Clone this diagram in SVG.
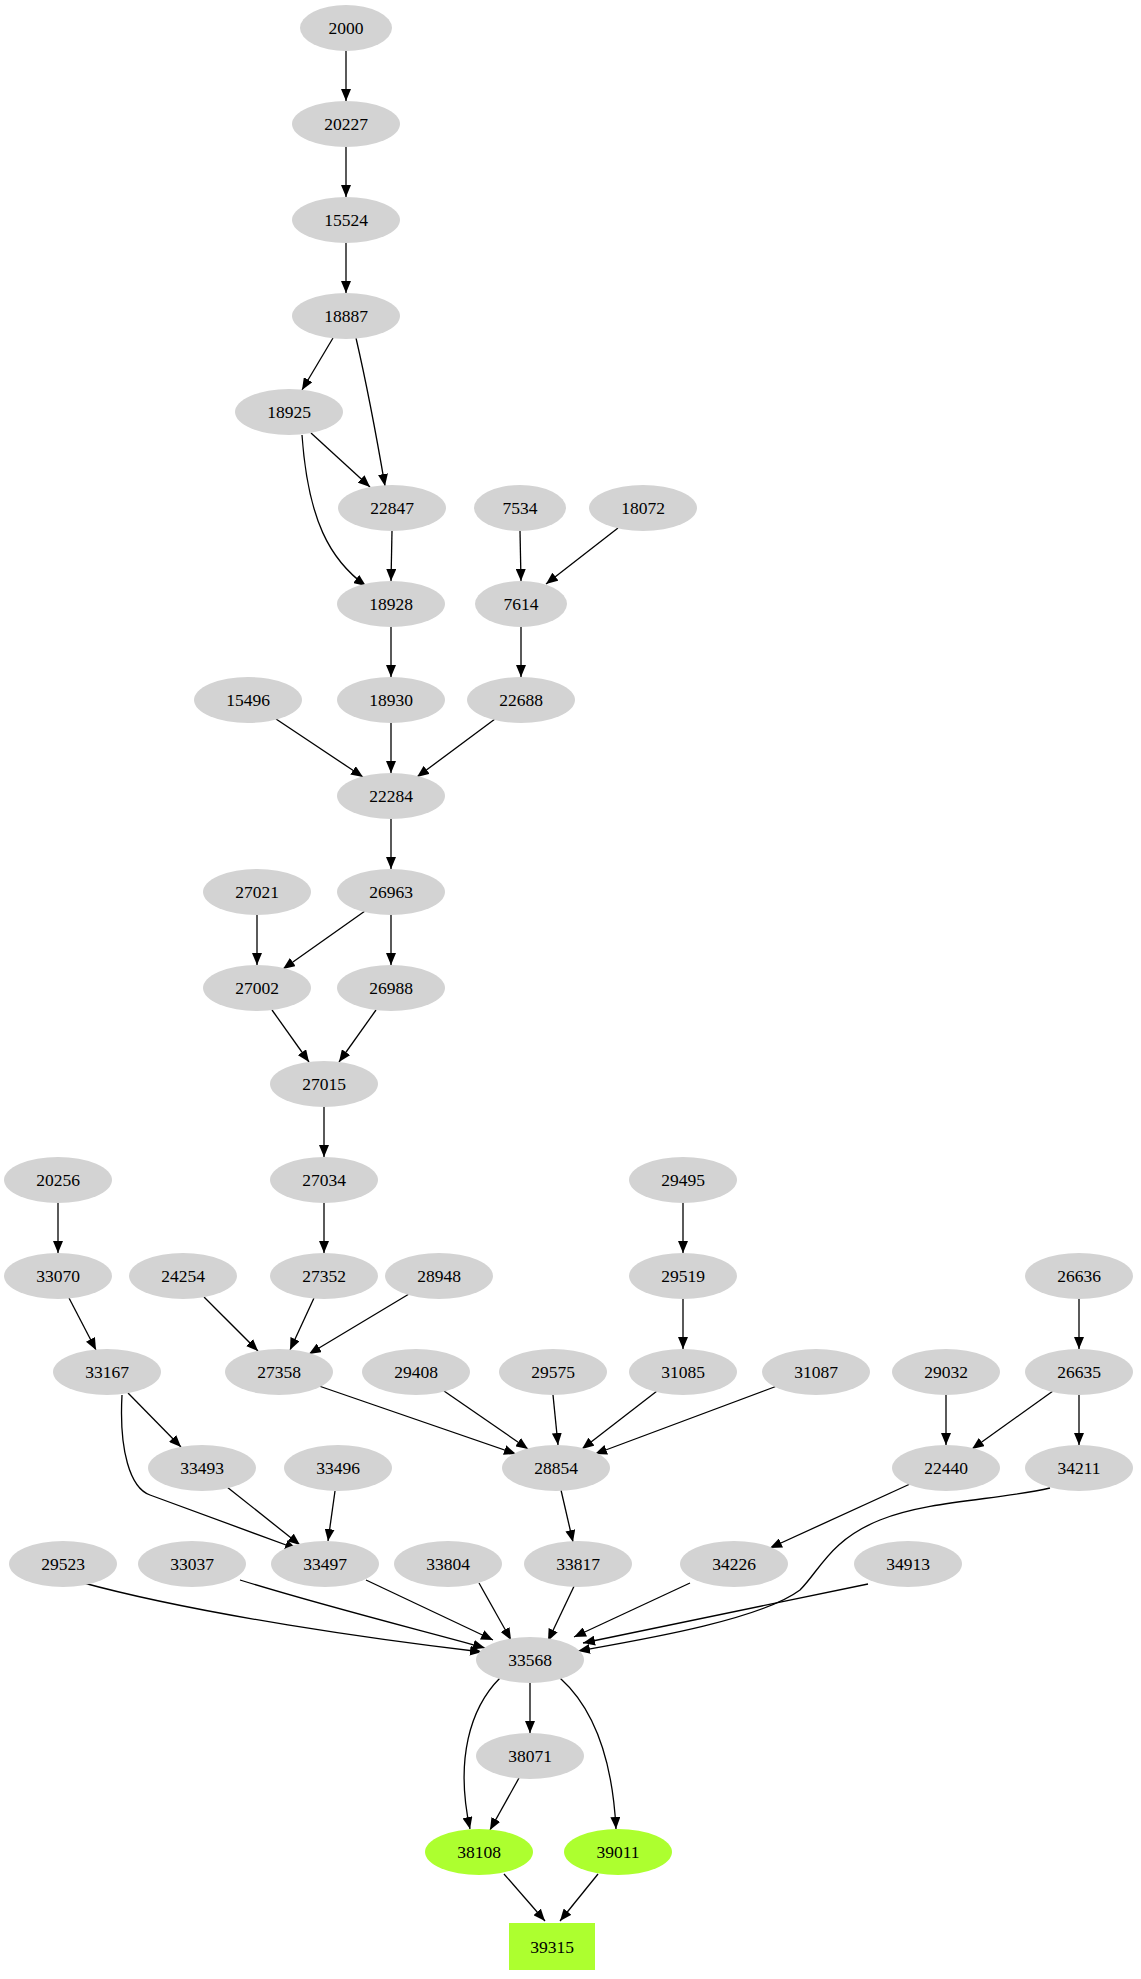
<svg xmlns="http://www.w3.org/2000/svg" width="1141" height="1979" viewBox="0 0 1141 1979">
<style>
.n ellipse{fill:#d3d3d3;stroke:none}
.g ellipse,.g rect{fill:#adff2f;stroke:none}
text{font-family:"Liberation Serif","Times New Roman",serif;font-size:17.5px;text-anchor:middle;dominant-baseline:central;fill:#000}
#edges path{fill:none;stroke:#000;stroke-width:1.3;marker-end:url(#a)}
</style>
<defs><marker id="a" markerUnits="userSpaceOnUse" markerWidth="13" markerHeight="10" refX="12" refY="5" orient="auto"><path d="M0,0 L12,5 L0,10 Z" fill="#000"/></marker></defs>
<rect width="1141" height="1979" fill="#fff"/>
<g id="edges">
<path d="M346,51 L346,101"/><path d="M346,147 L346,197"/><path d="M346,243 L346,293"/>
<path d="M333,338 L302,390"/>
<path d="M356,338 C368,390 378,445 385,486"/>
<path d="M311,433 L370,487"/>
<path d="M302,435 C308,520 330,560 366,586"/>
<path d="M392,531 L391,581"/><path d="M520,531 L521,581"/>
<path d="M618,528 L546,584"/>
<path d="M391,627 L391,677"/><path d="M521,627 L521,677"/>
<path d="M276,719 L363,777"/><path d="M391,723 L391,773"/><path d="M495,719 L417,777"/>
<path d="M391,819 L391,869"/><path d="M257,915 L257,965"/><path d="M365,911 L283,969"/><path d="M391,915 L391,965"/>
<path d="M272,1010 L309,1062"/><path d="M376,1010 L339,1062"/><path d="M324,1107 L324,1157"/>
<path d="M58,1203 L58,1253"/><path d="M683,1203 L683,1253"/><path d="M324,1203 L324,1253"/><path d="M1079,1299 L1079,1349"/>
<path d="M69,1298 L96,1350"/><path d="M204,1297 L258,1351"/><path d="M314,1298 L290,1350"/><path d="M409,1294 L309,1354"/>
<path d="M683,1299 L683,1349"/>
<path d="M128,1393 L181,1447"/>
<path d="M122,1395 C119,1450 130,1488 150,1495 L297,1549"/>
<path d="M1053,1391 L972,1449"/><path d="M946,1395 L946,1445"/><path d="M1079,1395 L1079,1445"/>
<path d="M319,1386 L516,1454"/><path d="M444,1391 L528,1449"/><path d="M553,1395 L558,1445"/><path d="M657,1391 L582,1449"/><path d="M777,1386 L595,1454"/>
<path d="M227,1487 L300,1545"/><path d="M335,1491 L328,1541"/><path d="M561,1490 L573,1542"/><path d="M910,1484 L770,1548"/>
<path d="M1050,1488 C1000,1500 930,1500 880,1520 C830,1540 820,1570 800,1590 C760,1620 640,1640 578,1651"/>
<path d="M80,1582 C200,1615 380,1640 482,1652"/>
<path d="M240,1580 C320,1605 420,1630 485,1648"/>
<path d="M366,1580 L493,1640"/><path d="M479,1583 L511,1640"/><path d="M577,1580 L548,1641"/><path d="M690,1583 L574,1637"/><path d="M868,1584 L583,1643"/>
<path d="M530,1683 L530,1733"/>
<path d="M500,1678 C470,1708 455,1760 470,1829"/>
<path d="M519,1778 L490,1830"/>
<path d="M560,1678 C590,1705 612,1750 616,1829"/>
<path d="M504,1874 L545,1921"/><path d="M598,1874 L560,1921"/>
</g>
<g id="n2000" class="n"><ellipse cx="346" cy="28" rx="46" ry="23"/><text x="346" y="28">2000</text></g>
<g id="n20227" class="n"><ellipse cx="346" cy="124" rx="54" ry="23"/><text x="346" y="124">20227</text></g>
<g id="n15524" class="n"><ellipse cx="346" cy="220" rx="54" ry="23"/><text x="346" y="220">15524</text></g>
<g id="n18887" class="n"><ellipse cx="346" cy="316" rx="54" ry="23"/><text x="346" y="316">18887</text></g>
<g id="n18925" class="n"><ellipse cx="289" cy="412" rx="54" ry="23"/><text x="289" y="412">18925</text></g>
<g id="n22847" class="n"><ellipse cx="392" cy="508" rx="54" ry="23"/><text x="392" y="508">22847</text></g>
<g id="n7534" class="n"><ellipse cx="520" cy="508" rx="46" ry="23"/><text x="520" y="508">7534</text></g>
<g id="n18072" class="n"><ellipse cx="643" cy="508" rx="54" ry="23"/><text x="643" y="508">18072</text></g>
<g id="n18928" class="n"><ellipse cx="391" cy="604" rx="54" ry="23"/><text x="391" y="604">18928</text></g>
<g id="n7614" class="n"><ellipse cx="521" cy="604" rx="46" ry="23"/><text x="521" y="604">7614</text></g>
<g id="n15496" class="n"><ellipse cx="248" cy="700" rx="54" ry="23"/><text x="248" y="700">15496</text></g>
<g id="n18930" class="n"><ellipse cx="391" cy="700" rx="54" ry="23"/><text x="391" y="700">18930</text></g>
<g id="n22688" class="n"><ellipse cx="521" cy="700" rx="54" ry="23"/><text x="521" y="700">22688</text></g>
<g id="n22284" class="n"><ellipse cx="391" cy="796" rx="54" ry="23"/><text x="391" y="796">22284</text></g>
<g id="n27021" class="n"><ellipse cx="257" cy="892" rx="54" ry="23"/><text x="257" y="892">27021</text></g>
<g id="n26963" class="n"><ellipse cx="391" cy="892" rx="54" ry="23"/><text x="391" y="892">26963</text></g>
<g id="n27002" class="n"><ellipse cx="257" cy="988" rx="54" ry="23"/><text x="257" y="988">27002</text></g>
<g id="n26988" class="n"><ellipse cx="391" cy="988" rx="54" ry="23"/><text x="391" y="988">26988</text></g>
<g id="n27015" class="n"><ellipse cx="324" cy="1084" rx="54" ry="23"/><text x="324" y="1084">27015</text></g>
<g id="n27034" class="n"><ellipse cx="324" cy="1180" rx="54" ry="23"/><text x="324" y="1180">27034</text></g>
<g id="n20256" class="n"><ellipse cx="58" cy="1180" rx="54" ry="23"/><text x="58" y="1180">20256</text></g>
<g id="n29495" class="n"><ellipse cx="683" cy="1180" rx="54" ry="23"/><text x="683" y="1180">29495</text></g>
<g id="n33070" class="n"><ellipse cx="58" cy="1276" rx="54" ry="23"/><text x="58" y="1276">33070</text></g>
<g id="n24254" class="n"><ellipse cx="183" cy="1276" rx="54" ry="23"/><text x="183" y="1276">24254</text></g>
<g id="n27352" class="n"><ellipse cx="324" cy="1276" rx="54" ry="23"/><text x="324" y="1276">27352</text></g>
<g id="n28948" class="n"><ellipse cx="439" cy="1276" rx="54" ry="23"/><text x="439" y="1276">28948</text></g>
<g id="n29519" class="n"><ellipse cx="683" cy="1276" rx="54" ry="23"/><text x="683" y="1276">29519</text></g>
<g id="n26636" class="n"><ellipse cx="1079" cy="1276" rx="54" ry="23"/><text x="1079" y="1276">26636</text></g>
<g id="n33167" class="n"><ellipse cx="107" cy="1372" rx="54" ry="23"/><text x="107" y="1372">33167</text></g>
<g id="n27358" class="n"><ellipse cx="279" cy="1372" rx="54" ry="23"/><text x="279" y="1372">27358</text></g>
<g id="n29408" class="n"><ellipse cx="416" cy="1372" rx="54" ry="23"/><text x="416" y="1372">29408</text></g>
<g id="n29575" class="n"><ellipse cx="553" cy="1372" rx="54" ry="23"/><text x="553" y="1372">29575</text></g>
<g id="n31085" class="n"><ellipse cx="683" cy="1372" rx="54" ry="23"/><text x="683" y="1372">31085</text></g>
<g id="n31087" class="n"><ellipse cx="816" cy="1372" rx="54" ry="23"/><text x="816" y="1372">31087</text></g>
<g id="n29032" class="n"><ellipse cx="946" cy="1372" rx="54" ry="23"/><text x="946" y="1372">29032</text></g>
<g id="n26635" class="n"><ellipse cx="1079" cy="1372" rx="54" ry="23"/><text x="1079" y="1372">26635</text></g>
<g id="n33493" class="n"><ellipse cx="202" cy="1468" rx="54" ry="23"/><text x="202" y="1468">33493</text></g>
<g id="n33496" class="n"><ellipse cx="338" cy="1468" rx="54" ry="23"/><text x="338" y="1468">33496</text></g>
<g id="n28854" class="n"><ellipse cx="556" cy="1468" rx="54" ry="23"/><text x="556" y="1468">28854</text></g>
<g id="n22440" class="n"><ellipse cx="946" cy="1468" rx="54" ry="23"/><text x="946" y="1468">22440</text></g>
<g id="n34211" class="n"><ellipse cx="1079" cy="1468" rx="54" ry="23"/><text x="1079" y="1468">34211</text></g>
<g id="n29523" class="n"><ellipse cx="63" cy="1564" rx="54" ry="23"/><text x="63" y="1564">29523</text></g>
<g id="n33037" class="n"><ellipse cx="192" cy="1564" rx="54" ry="23"/><text x="192" y="1564">33037</text></g>
<g id="n33497" class="n"><ellipse cx="325" cy="1564" rx="54" ry="23"/><text x="325" y="1564">33497</text></g>
<g id="n33804" class="n"><ellipse cx="448" cy="1564" rx="54" ry="23"/><text x="448" y="1564">33804</text></g>
<g id="n33817" class="n"><ellipse cx="578" cy="1564" rx="54" ry="23"/><text x="578" y="1564">33817</text></g>
<g id="n34226" class="n"><ellipse cx="734" cy="1564" rx="54" ry="23"/><text x="734" y="1564">34226</text></g>
<g id="n34913" class="n"><ellipse cx="908" cy="1564" rx="54" ry="23"/><text x="908" y="1564">34913</text></g>
<g id="n33568" class="n"><ellipse cx="530" cy="1660" rx="54" ry="23"/><text x="530" y="1660">33568</text></g>
<g id="n38071" class="n"><ellipse cx="530" cy="1756" rx="54" ry="23"/><text x="530" y="1756">38071</text></g>
<g id="n38108" class="g"><ellipse cx="479" cy="1852" rx="54" ry="23"/><text x="479" y="1852">38108</text></g>
<g id="n39011" class="g"><ellipse cx="618" cy="1852" rx="54" ry="23"/><text x="618" y="1852">39011</text></g>
<g id="n39315" class="g"><rect x="509" y="1923" width="86" height="47"/><text x="552" y="1947">39315</text></g>
</svg>
